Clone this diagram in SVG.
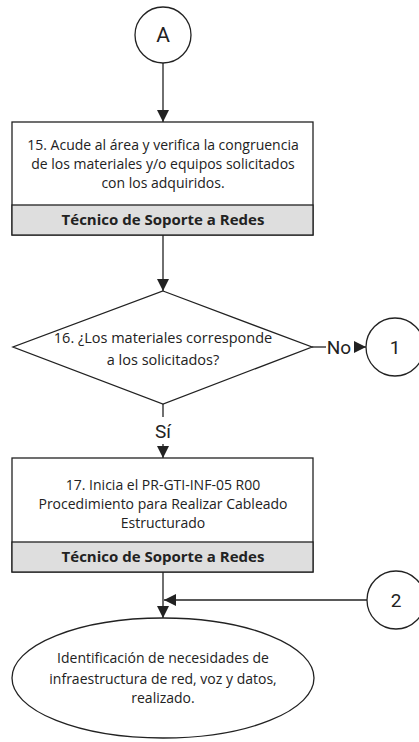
<svg xmlns="http://www.w3.org/2000/svg" width="419" height="742" viewBox="0 0 419 742">
<style>
.s{fill:#fff;stroke:#222;stroke-width:1.3}
.band{fill:#dedede;stroke:#222;stroke-width:1.3}
.ln{fill:none;stroke:#222;stroke-width:1.3}
.t{font-family:"Open Sans","Liberation Sans",sans-serif;font-size:14px;fill:#222;text-anchor:middle}
.b{font-family:"Open Sans","Liberation Sans",sans-serif;font-size:15px;font-weight:bold;fill:#222;text-anchor:middle}
.big{font-family:Roboto,"Liberation Sans",sans-serif;font-size:19px;fill:#222;text-anchor:middle}
</style>
<defs>
<marker id="ah" viewBox="0 0 10 10" refX="10" refY="5" markerWidth="12" markerHeight="12" markerUnits="userSpaceOnUse" orient="auto">
<path d="M0,0 L10,5 L0,10 z" fill="#222"/>
</marker>
</defs>
<rect width="419" height="742" fill="#fff"/>
<g id="connectors">
<line class="ln" x1="163" y1="63" x2="163" y2="122" marker-end="url(#ah)"/>
<line class="ln" x1="163" y1="235" x2="163" y2="291" marker-end="url(#ah)"/>
<line class="ln" x1="312" y1="347" x2="326" y2="347"/>
<line class="ln" x1="354" y1="347" x2="366" y2="347" marker-end="url(#ah)"/>
<line class="ln" x1="163" y1="404" x2="163" y2="417"/>
<line class="ln" x1="163" y1="444" x2="163" y2="458" marker-end="url(#ah)"/>
<line class="ln" x1="163" y1="572" x2="163" y2="618" marker-end="url(#ah)"/>
<line class="ln" x1="367" y1="600" x2="164" y2="600" marker-end="url(#ah)"/>
<text class="big" x="339" y="354">No</text>
<text class="big" x="163" y="438">Sí</text>
</g>
<g id="connA">
<circle class="s" cx="163" cy="35" r="28"/>
<text class="big" x="163" y="42" style="font-size:21px">A</text>
</g>
<g id="step15">
<rect class="s" x="12" y="122" width="301" height="113"/>
<rect class="band" x="12" y="205" width="301" height="30"/>
<text class="t" x="163" y="150">15. Acude al área y verifica la congruencia</text>
<text class="t" x="163" y="169">de los materiales y/o equipos solicitados</text>
<text class="t" x="163" y="188">con los adquiridos.</text>
<text class="b" x="163" y="225">Técnico de Soporte a Redes</text>
</g>
<g id="decision16">
<polygon class="s" points="163,291 312,347 163,404 13,347"/>
<text class="t" x="163" y="343" style="font-size:14.5px">16. ¿Los materiales corresponde</text>
<text class="t" x="163" y="365" style="font-size:14.5px">a los solicitados?</text>
</g>
<g id="conn1">
<circle class="s" cx="395" cy="347" r="29"/>
<text class="big" x="395" y="354">1</text>
</g>
<g id="step17">
<rect class="s" x="12" y="458" width="301" height="114"/>
<rect class="band" x="12" y="542" width="301" height="30"/>
<text class="t" x="163" y="490">17. Inicia el PR-GTI-INF-05 R00</text>
<text class="t" x="163" y="509">Procedimiento para Realizar Cableado</text>
<text class="t" x="163" y="528">Estructurado</text>
<text class="b" x="163" y="562">Técnico de Soporte a Redes</text>
</g>
<g id="conn2">
<circle class="s" cx="396" cy="600" r="29"/>
<text class="big" x="396" y="607">2</text>
</g>
<g id="end">
<ellipse class="s" cx="163" cy="678" rx="151" ry="60"/>
<text class="t" x="163" y="663">Identificación de necesidades de</text>
<text class="t" x="163" y="684">infraestructura de red, voz y datos,</text>
<text class="t" x="163" y="703">realizado.</text>
</g>
</svg>
